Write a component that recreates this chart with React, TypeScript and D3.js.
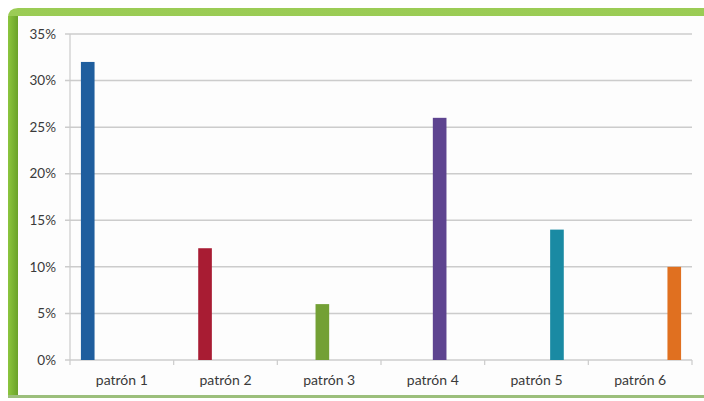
import React from "react";
import * as d3 from "d3";

const categories = ["patrón 1", "patrón 2", "patrón 3", "patrón 4", "patrón 5", "patrón 6"];
const values = [32, 12, 6, 26, 14, 10];
const colors = ["#1f5e9e", "#a81c33", "#73a035", "#5e4490", "#1a8aa3", "#e07020"];
const yTicks = [0, 5, 10, 15, 20, 25, 30, 35];

const W = 704;
const H = 401;
const plot = { left: 70, right: 692, top: 34, bottom: 360 };

export default function App() {
  const x = d3.scaleBand<string>().domain(categories).range([plot.left, plot.right]).padding(0);
  // each category holds one cluster slot per series; only its own series is non-zero
  const inner = d3
    .scaleBand<number>()
    .domain(d3.range(categories.length))
    .range([0, x.bandwidth()])
    .paddingInner(0)
    .paddingOuter(0.8);
  const y = d3.scaleLinear().domain([0, 35]).range([plot.bottom, plot.top]);
  const font = "Lato, 'Open Sans', sans-serif";

  return (
    <svg
      width={W}
      height={H}
      style={{ position: "absolute", left: 0, top: 0, display: "block" }}
    >
      <defs>
        <linearGradient id="leftEdge" x1="0" x2="1" y1="0" y2="0">
          <stop offset="0" stopColor="#8cc63e" />
          <stop offset="1" stopColor="#6aa22a" />
        </linearGradient>
        <linearGradient id="topEdge" x1="0" x2="0" y1="0" y2="1">
          <stop offset="0" stopColor="#9bcc55" />
          <stop offset="1" stopColor="#76ad36" />
        </linearGradient>
      </defs>
      <rect x={0} y={0} width={W} height={H} fill="#ffffff" />
      {/* frame */}
      <path d={`M8,397 L8,18 Q8,8 18,8 L${W},8 L${W},16 L18,16 L18,397 Z`} fill="url(#topEdge)" />
      <rect x={8} y={16} width={10} height={381} fill="url(#leftEdge)" />
      <rect x={8} y={395} width={W - 8} height={3} fill="#9cbf7c" />
      <rect x={18} y={16} width={W - 18} height={379} fill="#fdfdfd" />

      {/* gridlines */}
      {yTicks.map((t) => (
        <line
          key={t}
          x1={plot.left - 5}
          x2={plot.right}
          y1={y(t)}
          y2={y(t)}
          stroke="#cccccc"
          strokeWidth={1.5}
        />
      ))}
      {/* axes */}
      <line x1={plot.left} x2={plot.left} y1={plot.top} y2={plot.bottom} stroke="#cccccc" strokeWidth={1.2} />
      {categories.map((c) => (
        <line
          key={c}
          x1={x(c)!}
          x2={x(c)!}
          y1={plot.bottom}
          y2={plot.bottom + 5}
          stroke="#cccccc"
          strokeWidth={1.2}
        />
      ))}
      <line x1={plot.right} x2={plot.right} y1={plot.bottom} y2={plot.bottom + 5} stroke="#cccccc" strokeWidth={1.2} />

      {/* bars */}
      {categories.map((c, i) => (
        <rect
          key={c}
          x={x(c)! + inner(i)!}
          y={y(values[i])}
          width={inner.bandwidth()}
          height={y(0) - y(values[i])}
          fill={colors[i]}
        />
      ))}

      {/* y tick labels */}
      {yTicks.map((t) => (
        <text
          key={t}
          x={plot.left - 14}
          y={y(t)}
          dy="0.35em"
          textAnchor="end"
          fontFamily={font}
          fontSize={13.5}
          fill="#3a3a3a"
        >
          {`${t}%`}
        </text>
      ))}
      {/* category labels */}
      {categories.map((c) => (
        <text
          key={c}
          x={x(c)! + x.bandwidth() / 2}
          y={380}
          dy="0.35em"
          textAnchor="middle"
          fontFamily={font}
          fontSize={14}
          fill="#3a3a3a"
        >
          {c}
        </text>
      ))}
    </svg>
  );
}
